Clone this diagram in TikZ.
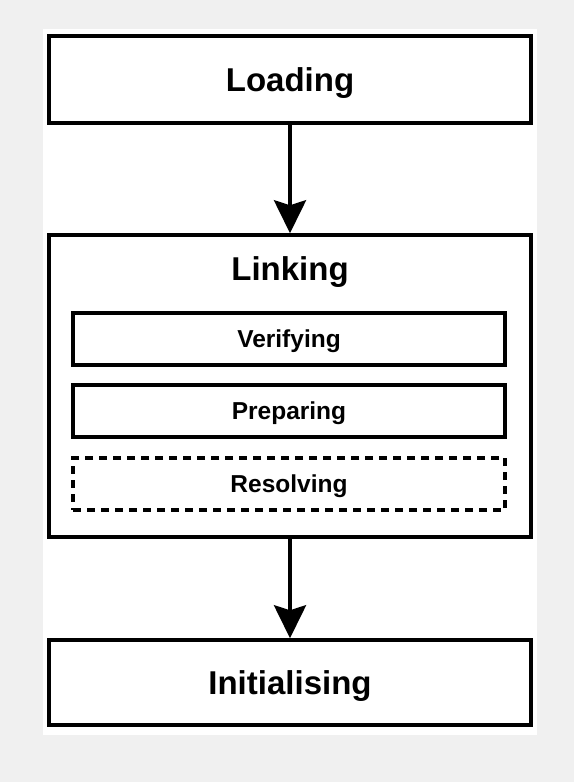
\documentclass[tikz,border=0pt]{standalone}
\usepackage{fontspec}
\setmainfont{Liberation Sans}
\usetikzlibrary{arrows.meta}
\definecolor{pagegray}{HTML}{F0F0F0}
\begin{document}
\begin{tikzpicture}[
  x=1pt,
  y=-1pt,
  line join=miter,
  bigtext/.style={font=\fontsize{33}{38}\selectfont\bfseries,
    text height=23.6pt,text depth=0pt},
  phase/.style={bigtext,draw=black,fill=white,line width=3.5pt,
    minimum width=482pt,minimum height=87pt,inner sep=0pt},
  substep/.style={draw=black,line width=3.2pt,minimum width=432pt,
    minimum height=52pt,inner sep=0pt,font=\fontsize{24.5}{28}\selectfont\bfseries,
    text height=17.5pt,text depth=0pt},
  optstep/.style={substep,dash pattern=on 8pt off 6pt},
  flow/.style={line width=4pt,-{Stealth[length=33pt,width=32pt,inset=5pt]}}
]
  % page and white panel
  \fill[pagegray] (0,0) rectangle (574,782);
  \fill[white] (43,29) rectangle (537,735);

  % the three phases
  \node[phase] (loading) at (290,79.5) {Loading};
  \node[phase,minimum height=302pt] (linking) at (290,386) {};
  \node[bigtext,inner sep=0pt] (linktitle) at (290,268.5) {Linking};
  \node[phase,minimum height=85pt] (init) at (290,682.5) {Initialising};

  % steps inside linking
  \node[substep] (verify) at (289,339) {Verifying};
  \node[substep] (prepare) at (289,411) {Preparing};
  \node[optstep] (resolve) at (289,484) {Resolving};

  \draw[flow] (loading) -- (linking);
  \draw[flow] (linking) -- (init);
\end{tikzpicture}
\end{document}
